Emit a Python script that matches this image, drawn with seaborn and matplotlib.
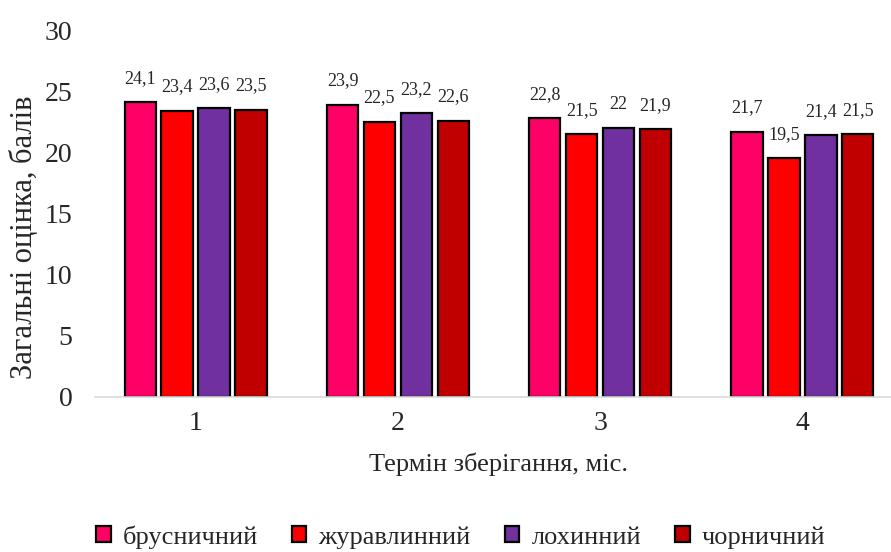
import pandas as pd
import seaborn as sns
import matplotlib.pyplot as plt

# Дані з діаграми
months = ["1", "2", "3", "4"]
brusnychnyi = [24.1, 23.9, 22.8, 21.7]
zhuravlynnyi = [23.4, 22.5, 21.5, 19.5]
lokhynnyi = [23.6, 23.2, 22.0, 21.4]
chornychnyi = [23.5, 22.6, 21.9, 21.5]
series_names = ["брусничний", "журавлинний", "лохинний", "чорничний"]
colors = ["#FF0066", "#FF0000", "#7030A0", "#C00000"]

df = pd.DataFrame({
    "month": months * 4,
    "score": brusnychnyi + zhuravlynnyi + lokhynnyi + chornychnyi,
    "kind": [n for n in series_names for _ in months],
})

sns.set_style("white")
plt.rcParams["font.family"] = ["Liberation Serif", "DejaVu Serif"]

fig = plt.figure(figsize=(8.91, 5.52), dpi=100)
ax = fig.add_axes([94.5 / 891, 1 - 397 / 552, 809 / 891, 367 / 552])

sns.barplot(data=df, x="month", y="score", hue="kind", hue_order=series_names,
            palette=colors, saturation=1, width=0.73, gap=0.15, edgecolor="black",
            linewidth=1.6, ax=ax, legend=True)

for cont in ax.containers:
    labels = [f"{v:g}".replace(".", ",") for v in cont.datavalues]
    ax.bar_label(cont, labels=labels, padding=11, fontsize=13)

ax.set_ylim(0, 30)
ax.set_yticks(range(0, 31, 5))
ax.set_xlim(-0.5, 3.5)
ax.tick_params(axis="y", length=0, labelsize=20, pad=16)
ax.tick_params(axis="x", length=0, labelsize=20, pad=10)
for s in ["top", "right", "left"]:
    ax.spines[s].set_visible(False)
ax.spines["bottom"].set_color("#D9D9D9")
ax.spines["bottom"].set_linewidth(1.2)

ax.set_xlabel("Термін зберігання, міс.", fontsize=19, labelpad=12)
ax.set_ylabel("Загальні оцінка, балів", fontsize=22)
ax.yaxis.set_label_coords(-0.068, 0.435)

ax.legend_.remove()
handles, lbls = ax.get_legend_handles_labels()
fig.legend(handles[:4], lbls[:4], loc="center left", bbox_to_anchor=(96 / 891, 1 - 537 / 552),
           ncol=4, frameon=False, fontsize=19, handlelength=0.55, handleheight=0.55,
           handletextpad=0.45, columnspacing=1.3, borderpad=0, borderaxespad=0)

fig.savefig("out.png", dpi=100)
